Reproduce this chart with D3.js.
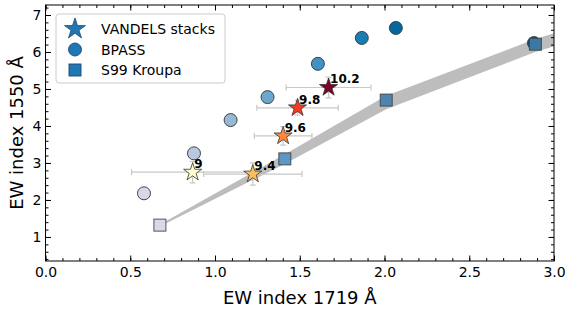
<html>
<head>
<script src="https://cdn.jsdelivr.net/npm/d3@7"></script>
<style>
  body { margin: 0; background: #fff; }
  svg text { font-family: "DejaVu Sans", sans-serif; }
</style>
</head>
<body>
<svg width="574" height="314"></svg>
<script>
// VANDELS stacks: stellar mass bins, positions and errors
var starMass = [9, 9.4, 9.6, 9.8, 10.2];
var starX = [0.868, 1.223, 1.402, 1.487, 1.67];
var starY = [2.75, 2.70, 3.73, 4.49, 5.04];
var starXErr = [0.36, 0.29, 0.17, 0.24, 0.25];
var starYErr = [0.29, 0.30, 0.25, 0.20, 0.28];

// BPASS models
var bpassX = [0.581, 0.876, 1.092, 1.31, 1.607, 1.866, 2.067, 2.882];
var bpassY = [2.18, 3.26, 4.16, 4.78, 5.68, 6.38, 6.65, 6.24];

// S99 Kroupa models and their band
var s99X = [0.675, 1.412, 2.01, 2.89];
var s99Y = [1.32, 3.11, 4.70, 6.21];
var bandX = [0.675, 1.41, 2.01, 2.89, 3.1];
var bandLo = [1.28, 2.97, 4.45, 6.0, 6.3];
var bandHi = [1.34, 3.23, 4.82, 6.35, 6.65];

var xTicks = [0, 0.5, 1, 1.5, 2, 2.5, 3];
var yTicks = [1, 2, 3, 4, 5, 6, 7];

var svg = d3.select('svg');
var L = 45.5, R = 554, T = 5, B = 261;
var x = d3.scaleLinear().domain([0, 3]).range([L, R]);
var y = d3.scaleLinear().domain([0.35, 7.27]).range([B, T]);

svg.append('clipPath').attr('id', 'clip')
    .append('rect').attr('x', L).attr('y', T).attr('width', R - L).attr('height', B - T);
var plot = svg.append('g').attr('clip-path', 'url(#clip)');

// gray band
var band = bandX.map((d, i) => ({ x: d, lo: bandLo[i], hi: bandHi[i] }));
plot.append('path')
    .datum(band)
    .attr('d', d3.area().x(d => x(d.x)).y0(d => y(d.lo)).y1(d => y(d.hi)))
    .style('fill', '#bdbdbd');

// error bars
var stars = starMass.map((m, i) => ({ m: m, x: starX[i], y: starY[i], xe: starXErr[i], ye: starYErr[i] }));
var eb = plot.append('g').style('stroke', '#c8c8c8').style('stroke-width', 1.2);
stars.forEach(d => {
    eb.append('line').attr('x1', x(d.x - d.xe)).attr('x2', x(d.x + d.xe)).attr('y1', y(d.y)).attr('y2', y(d.y));
    eb.append('line').attr('x1', x(d.x)).attr('x2', x(d.x)).attr('y1', y(d.y - d.ye)).attr('y2', y(d.y + d.ye));
    [d.x - d.xe, d.x + d.xe].forEach(v => {
        eb.append('line').attr('x1', x(v)).attr('x2', x(v)).attr('y1', y(d.y) - 3).attr('y2', y(d.y) + 3);
    });
    [d.y - d.ye, d.y + d.ye].forEach(v => {
        eb.append('line').attr('x1', x(d.x) - 3).attr('x2', x(d.x) + 3).attr('y1', y(v)).attr('y2', y(v));
    });
});

// BPASS circles
var bpassColor = d3.scaleSequential(d3.interpolatePuBu).domain([-2.2, bpassX.length]);
plot.selectAll('circle.bpass')
    .data(bpassX.map((d, i) => ({ x: d, y: bpassY[i], i: i })))
    .enter().append('circle')
    .attr('cx', d => x(d.x))
    .attr('cy', d => y(d.y))
    .attr('r', 6.5)
    .style('fill', d => bpassColor(d.i))
    .style('stroke', '#333')
    .style('stroke-width', 0.9);

// S99 squares
var s99Color = ['#d8d8ea', '#5b98c6', '#4c86b0', '#3d78a3'];
plot.selectAll('rect.s99')
    .data(s99X.map((d, i) => ({ x: d, y: s99Y[i], i: i })))
    .enter().append('rect')
    .attr('x', d => x(d.x) - 6)
    .attr('y', d => y(d.y) - 6)
    .attr('width', 12)
    .attr('height', 12)
    .style('fill', d => s99Color[d.i])
    .style('stroke', '#444')
    .style('stroke-width', 0.9);

// stars
function starPath(r) {
    return d3.symbol(d3.symbolStar, r * r / 0.8908130915292852)();
}
var starColor = m => d3.interpolateYlOrRd((m - 9) / 1.2);
plot.selectAll('path.star')
    .data(stars)
    .enter().append('path')
    .attr('d', starPath(9.5))
    .attr('transform', d => 'translate(' + x(d.x) + ',' + y(d.y) + ')')
    .style('fill', d => starColor(d.m))
    .style('stroke', '#333')
    .style('stroke-width', 0.8);

svg.selectAll('text.lab')
    .data(stars)
    .enter().append('text')
    .attr('x', d => x(d.x) + 1.5)
    .attr('y', d => y(d.y) - 4)
    .style('font-size', '12px')
    .style('font-weight', 'bold')
    .text(d => d.m);

// axes with inward ticks
function ticks(axisFn, tr, major, minor, labels, fmt) {
    var g = svg.append('g').attr('transform', tr);
    g.call(axisFn(major === 'x' ? x : y)
        .tickValues(d3.range(minor[0], minor[1] + 1e-9, minor[2]))
        .tickSize(-3).tickFormat(''));
    g.selectAll('.domain').remove();
    var g2 = svg.append('g').attr('transform', tr);
    g2.call(axisFn(major === 'x' ? x : y)
        .tickValues(major === 'x' ? xTicks : yTicks)
        .tickSize(-5.5).tickPadding(major === 'x' ? 6 : 4)
        .tickFormat(labels ? fmt : ''));
    g2.selectAll('.domain').remove();
    g2.selectAll('text').style('font-size', '14px').style('fill', '#000');
    svg.selectAll('.tick line').style('stroke', '#000');
}
ticks(d3.axisBottom, 'translate(0,' + B + ')', 'x', [0, 3, 0.1], true, d3.format('.1f'));
ticks(d3.axisTop, 'translate(0,' + T + ')', 'x', [0, 3, 0.1], false);
ticks(d3.axisLeft, 'translate(' + L + ',0)', 'y', [0.4, 7.2, 0.2], true, d3.format('d'));
ticks(d3.axisRight, 'translate(' + R + ',0)', 'y', [0.4, 7.2, 0.2], false);

svg.append('rect')
    .attr('x', L).attr('y', T).attr('width', R - L).attr('height', B - T)
    .style('fill', 'none').style('stroke', '#000').style('stroke-width', 1);

svg.append('text')
    .attr('x', (L + R) / 2).attr('y', 304)
    .attr('text-anchor', 'middle')
    .style('font-size', '18px')
    .text('EW index 1719 Å');
svg.append('text')
    .attr('transform', 'translate(23,' + (T + B) / 2 + ') rotate(-90)')
    .attr('text-anchor', 'middle')
    .style('font-size', '18px')
    .text('EW index 1550 Å');

// legend
var leg = svg.append('g');
leg.append('rect')
    .attr('x', 56).attr('y', 14).attr('width', 169).attr('height', 69).attr('rx', 3)
    .style('fill', 'rgba(255,255,255,0.8)').style('stroke', '#ccc').style('stroke-width', 1);
var legItems = ['VANDELS stacks', 'BPASS', 'S99 Kroupa'];
legItems.forEach((t, i) => {
    var cy = 29 + i * 20.5;
    if (i === 0) {
        leg.append('path').attr('d', starPath(11)).attr('transform', 'translate(75,' + cy + ')')
            .style('fill', '#1f77b4').style('stroke', '#1a4a70').style('stroke-width', 0.8);
    } else if (i === 1) {
        leg.append('circle').attr('cx', 75).attr('cy', cy).attr('r', 6.5)
            .style('fill', '#1f77b4').style('stroke', '#1a4a70').style('stroke-width', 0.9);
    } else {
        leg.append('rect').attr('x', 69).attr('y', cy - 6).attr('width', 12).attr('height', 12)
            .style('fill', '#1f77b4').style('stroke', '#1a4a70').style('stroke-width', 0.9);
    }
    leg.append('text').attr('x', 101).attr('y', cy + 5).style('font-size', '14px').text(t);
});
</script>
</body>
</html>
